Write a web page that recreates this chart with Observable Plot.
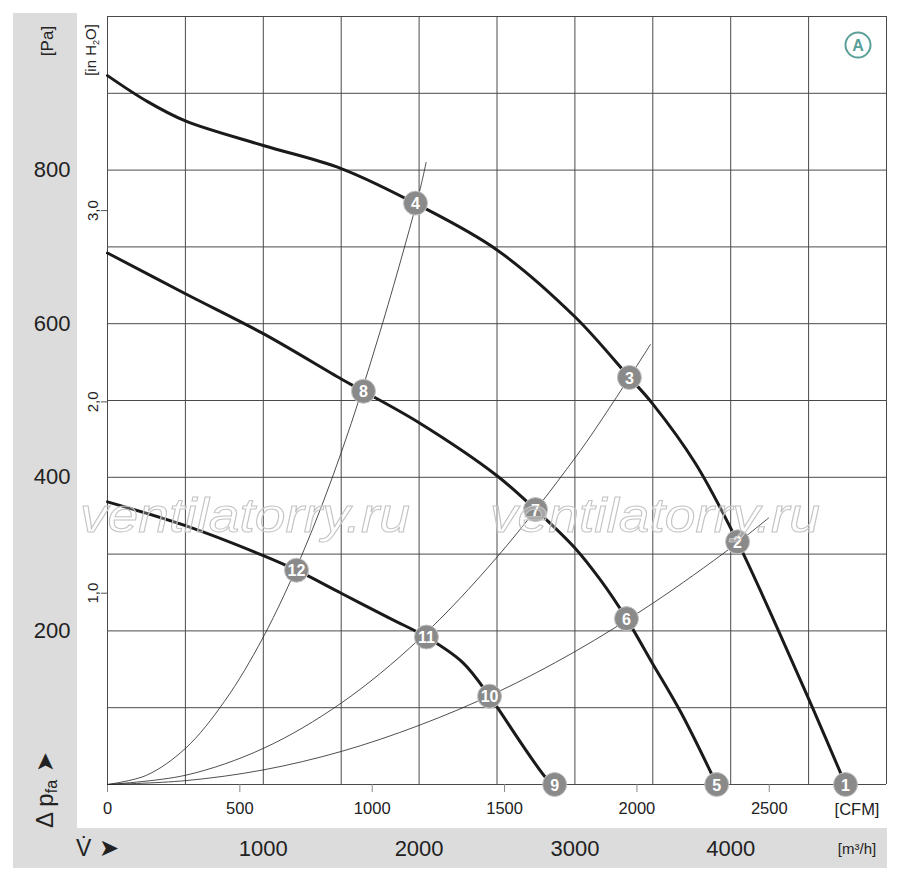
<!DOCTYPE html>
<html><head><meta charset="utf-8">
<script src="https://cdn.jsdelivr.net/npm/d3@7"></script>
<script src="https://cdn.jsdelivr.net/npm/@observablehq/plot@0.6"></script>
<style>
body{margin:0;background:#fff;}
#chart svg{display:block;}
</style></head><body><div id="chart"></div>
<script>
const FONT = '"Liberation Sans", Arial, sans-serif';

// ---- data (airflow in m³/h, pressure in Pa) ----
const curveA_V = [0, 250, 500, 1000, 1500, 2000, 2500, 3000, 3350, 3498, 3774, 4044, 4307, 4525, 4737];
const curveA_P = [923, 890, 864, 832, 802, 754, 696, 609, 530, 496, 418, 316, 200, 100, 0];
const curveB_V = [0, 500, 1000, 1500, 1643, 2000, 2500, 2747, 3000, 3165, 3331, 3500, 3680, 3910];
const curveB_P = [692, 639, 587, 528, 512, 471, 402, 358, 308, 266, 216, 157, 94, 0];
const curveC_V = [0, 500, 1000, 1213, 1500, 1816, 2047, 2279, 2452, 2503, 2830, 2870];
const curveC_P = [368, 337, 298, 279, 249, 216, 192, 159, 115, 100, 5, 0];

const sys1_V = [0, 250, 500, 750, 1000, 1250, 1500, 1750, 2000, 2045];
const sys1_P = [0, 12, 47, 108, 192, 300, 432, 590, 770, 810];
const sys2_V = [0, 500, 1000, 1500, 2000, 2500, 3000, 3250, 3485];
const sys2_P = [0, 12, 47, 106, 189, 296, 425, 499, 573];
const sys3_V = [0, 500, 1000, 1500, 2000, 2500, 3000, 3500, 4000, 4243];
const sys3_P = [0, 5, 19, 43, 77, 120, 173, 236, 308, 347];

const pointLabels = ["1","2","3","4","5","6","7","8","9","10","11","12"];
const pointV = [4737, 4044, 3350, 1977, 3910, 3331, 2747, 1643, 2870, 2452, 2047, 1213];
const pointP = [0, 316, 530, 757, 0, 216, 358, 512, 0, 115, 192, 279];

const gridV = [0, 500, 1000, 1500, 2000, 2500, 3000, 3500, 4000, 4500, 5000];
const gridP = [0, 100, 200, 300, 400, 500, 600, 700, 800, 900, 1000];
const paTicks = [200, 400, 600, 800];
const inH2OTicks = [1, 2, 3];
const cfmTicks = [0, 500, 1000, 1500, 2000, 2500];
const m3hTicks = [1000, 2000, 3000, 4000];

const PA_PER_INH2O = 249.089;
const M3H_PER_CFM = 1.69901;

const zip = (V, P) => V.map((v, i) => ({v, p: P[i]}));
const fanCurves = [zip(curveA_V, curveA_P), zip(curveB_V, curveB_P), zip(curveC_V, curveC_P)];
const sysCurves = [zip(sys1_V, sys1_P), zip(sys2_V, sys2_P), zip(sys3_V, sys3_P)];
const points = pointV.map((v, i) => ({v, p: pointP[i], label: pointLabels[i]}));

const plot = Plot.plot({
  width: 900, height: 874,
  marginLeft: 107, marginRight: 14, marginTop: 16, marginBottom: 90,
  style: {fontFamily: FONT, fontSize: "16px", color: "#222", background: "transparent"},
  x: {domain: [0, 5000], label: null},
  y: {domain: [0, 1000], label: null},
  marks: [
    Plot.ruleX(gridV, {stroke: "#4a4a4a", strokeWidth: 1}),
    Plot.ruleY(gridP, {stroke: "#4a4a4a", strokeWidth: 1}),
    Plot.axisY({ticks: paTicks, tickFormat: d => String(d), tickSize: 0, tickPadding: 37, fontSize: 22, label: null, fill: "#222"}),
    Plot.axisY({ticks: inH2OTicks.map(t => t * PA_PER_INH2O), tickFormat: d => (d / PA_PER_INH2O).toFixed(1).replace(".", ","),
      tickSize: 6, tickRotate: -90, tickPadding: 4, fontSize: 15, label: null, stroke: "#555", fill: "#222"}),
    Plot.axisX({ticks: cfmTicks.map(c => c * M3H_PER_CFM), tickFormat: d => String(Math.round(d / M3H_PER_CFM)),
      tickSize: 8, tickPadding: 10, fontSize: 16.5, label: null, stroke: "#888", fill: "#222"}),
    Plot.axisX({ticks: m3hTicks, tickFormat: d => String(d), tickSize: 0, tickPadding: 56, fontSize: 22, label: null, fill: "#222"}),
    ...sysCurves.map(c => Plot.line(c, {x: "v", y: "p", stroke: "#222", strokeWidth: 0.8, curve: "catmull-rom"})),
    ...fanCurves.map(c => Plot.line(c, {x: "v", y: "p", stroke: "#1a1a1a", strokeWidth: 3, curve: "catmull-rom"})),
    Plot.dot(points, {x: "v", y: "p", r: 12, fill: "#8a8a8a", stroke: "#c4c4c4", strokeWidth: 1}),
    Plot.text(points, {x: "v", y: "p", text: "label", fill: "white", fontWeight: "bold", fontSize: 16, dy: 1})
  ]
});

const svg = d3.select(plot);
svg.insert("path", ":first-child")
  .attr("d", "M13,13H77V828H887V868H13Z").attr("fill", "#dcdcdc");

function label(x, y, rot, anchor, size, parts) {
  const t = svg.append("text")
    .attr("transform", `translate(${x},${y})` + (rot ? ` rotate(${rot})` : ""))
    .attr("text-anchor", anchor).attr("font-size", size).attr("fill", "#222")
    .attr("font-family", FONT);
  parts.forEach(p => {
    const s = t.append("tspan").text(p.t);
    if (p.size) s.attr("font-size", p.size);
    if (p.dy) s.attr("dy", p.dy);
    if (p.ff) s.attr("font-family", p.ff);
  });
  return t;
}
label(53, 41, -90, "middle", 17, [{t: "[Pa]"}]);
label(96, 50, -90, "middle", 15, [{t: "[in H"}, {t: "2", size: 9, dy: 3}, {t: "O]", dy: -3}]);
label(53, 828, -90, "start", 24, [{t: "Δ p"}, {t: "fa", size: 16, dy: 4}, {t: " ➤", dy: -4, size: 24, ff: "DejaVu Sans"}]);
label(76, 856, 0, "start", 23, [{t: "V\u0307"}, {t: " ➤", size: 24, ff: "DejaVu Sans"}]);
label(857, 815, 0, "middle", 16.5, [{t: "[CFM]"}]);
label(857, 854, 0, "middle", 15, [{t: "[m³/h]"}]);

svg.append("circle").attr("cx", 858).attr("cy", 45).attr("r", 12.5)
  .attr("fill", "none").attr("stroke", "#5b9f99").attr("stroke-width", 2);
svg.append("text").attr("x", 858).attr("y", 51).attr("text-anchor", "middle")
  .attr("font-size", 16).attr("font-weight", "bold").attr("fill", "#5b9f99")
  .attr("font-family", FONT).text("A");

[[80, 532], [490, 532]].forEach(([x, y]) => {
  svg.append("text").attr("x", x).attr("y", y).attr("text-anchor", "start")
    .attr("font-family", FONT).attr("font-style", "italic")
    .attr("font-size", 48).attr("textLength", 330).attr("lengthAdjust", "spacingAndGlyphs")
    .attr("fill", "white").attr("fill-opacity", 0.25)
    .attr("stroke", "#c4c4c4").attr("stroke-width", 1)
    .text("ventilatorry.ru");
});

document.getElementById("chart").appendChild(plot);
</script>
</body></html>
